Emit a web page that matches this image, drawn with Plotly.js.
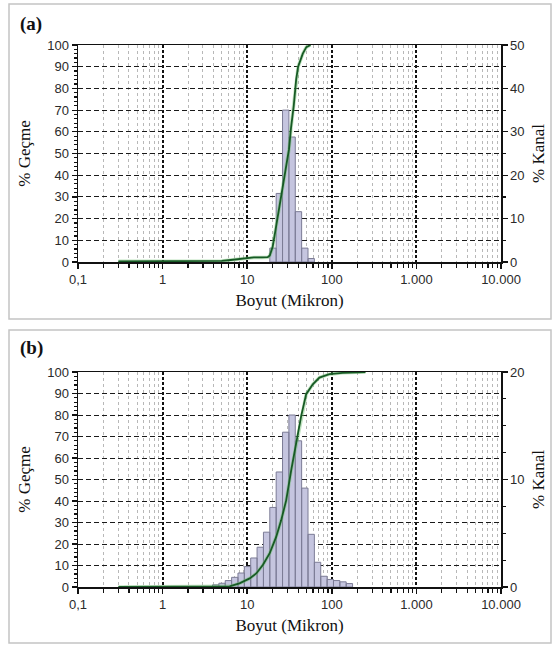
<!DOCTYPE html>
<html>
<head>
<meta charset="utf-8">
<script src="https://cdn.plot.ly/plotly-3.0.1.min.js"></script>
<style>
  html, body { margin: 0; padding: 0; background: #ffffff; }
  #chart { width: 552px; height: 646px; }
</style>
</head>
<body>
<div id="chart"></div>
<script>
// ---------- DATA ----------
// x tick labels (Turkish number format)
const xTickVals = [0.1, 1, 10, 100, 1000, 10000];
const xTickText = ['0,1', '1', '10', '100', '1.000', '10.000'];

// Panel (a): channel histogram (% Kanal) — bin edges in microns
const aBinLow  = [18.5, 22, 26.16, 31.11, 37, 44, 52.33];
const aBinHigh = [22, 26.16, 31.11, 37, 44, 52.33, 62.23];
const aKanal   = [3.2, 15.8, 35.0, 28.8, 11.6, 3.2, 0.8];

// Panel (a): cumulative passing curve (% Geçme)
const aSize = [0.3, 1, 3, 5, 6, 7, 8, 9, 10, 12, 15, 17.5, 18.5, 20, 23, 25.2, 27.6, 30.2, 31.2, 33, 35.5, 37.9, 40, 45.4, 50, 56];
const aPass = [0.3, 0.3, 0.4, 0.5, 0.8, 1.1, 1.4, 1.8, 2.0, 2.1, 2.1, 2.2, 3, 7, 21, 30, 39, 48, 52, 62, 72, 84, 90, 96, 99, 100];

// Panel (b): channel histogram (% Kanal)
const bBinLow  = [3.889, 4.625, 5.5, 6.541, 7.778, 9.25, 11, 13.08, 15.56, 18.5, 22, 26.16, 31.11, 37, 44, 52.33, 62.23, 74, 88, 104.7, 124.5, 148];
const bBinHigh = [4.625, 5.5, 6.541, 7.778, 9.25, 11, 13.08, 15.56, 18.5, 22, 26.16, 31.11, 37, 44, 52.33, 62.23, 74, 88, 104.7, 124.5, 148, 176];
const bKanal   = [0.2, 0.35, 0.6, 0.9, 1.3, 1.9, 2.7, 3.7, 5.1, 7.4, 10.7, 14.4, 16.0, 13.6, 9.2, 4.9, 2.3, 1.0, 0.7, 0.6, 0.48, 0.32];

// Panel (b): cumulative passing curve (% Geçme)
const bSize = [0.3, 1, 2, 3, 4.3, 6.2, 8.1, 10.7, 12.8, 15.3, 18.4, 22, 25.2, 28.9, 33.1, 37.9, 43.5, 49.8, 59.6, 71.4, 93.7, 134, 250];
const bPass = [0, 0, 0, 0, 0.05, 0.3, 1.7, 4.0, 6.3, 10.2, 15.6, 23.3, 31, 40.3, 54.2, 66.5, 79.6, 89.7, 94.3, 97.4, 99, 99.6, 100];

// ---------- HELPERS ----------
function barPolygons(lo, hi, val) {
  const xs = [], ys = [];
  for (let i = 0; i < val.length; i++) {
    xs.push(lo[i], lo[i], hi[i], hi[i], lo[i], null);
    ys.push(0, val[i], val[i], 0, 0, null);
  }
  return {x: xs, y: ys};
}
const minorX = [];
[0.1, 1, 10, 100, 1000].forEach(d => { for (let k = 2; k <= 9; k++) minorX.push(d * k); });

const BAR_FILL = '#c5c5df', BAR_LINE = '#7c7c96';
const CURVE = '#175a25', HALO = 'rgba(110,190,110,0.45)';
const tickFont = {family: 'Arial, Liberation Sans, sans-serif', size: 13, color: '#2a2a2a'};
const titleFont = {family: 'Times New Roman, Liberation Serif, serif', size: 17, color: '#111'};

function xAxis(anchor) {
  return {
    type: 'log', range: [-1, 4], anchor: anchor,
    tickmode: 'array', tickvals: xTickVals, ticktext: xTickText,
    ticks: 'outside', ticklen: 5, tickwidth: 1.5, tickcolor: '#111',
    tickfont: tickFont,
    showline: true, linecolor: '#111', linewidth: 1.5, mirror: true,
    showgrid: true, gridcolor: '#111', gridwidth: 2, griddash: '3px,2px',
    minor: {tickmode: 'array', tickvals: minorX, ticks: 'outside', ticklen: 4, tickwidth: 1.2, tickcolor: '#111',
            showgrid: true, gridcolor: '#b8b8b8', gridwidth: 1, griddash: 'dot'},
    title: {text: 'Boyut (Mikron)', font: titleFont, standoff: 8},
    zeroline: false, automargin: false
  };
}
function kanalAxis(anchor, domain, max, minorStep) {
  return {
    domain: domain, anchor: anchor, side: 'right', range: [0, max], dtick: 10,
    ticks: 'outside', ticklen: 5, tickwidth: 1.2, tickcolor: '#111', tickfont: tickFont,
    minor: {dtick: minorStep, ticks: 'outside', ticklen: 3, tickcolor: '#111'},
    showgrid: false, zeroline: false, showline: true, linecolor: '#111', linewidth: 1.5,
    title: {text: '% Kanal', font: titleFont, standoff: 8}, automargin: false
  };
}
function gecmeAxis(anchor, over) {
  return {
    anchor: anchor, overlaying: over, side: 'left', range: [0, 100], dtick: 10,
    ticks: 'outside', ticklen: 5, tickwidth: 1.2, tickcolor: '#111', tickfont: tickFont,
    minor: {dtick: 2, ticks: 'outside', ticklen: 3, tickcolor: '#111'},
    showgrid: true, gridcolor: '#1a1a1a', gridwidth: 1, griddash: '5px,3px',
    zeroline: false, showline: true, linecolor: '#111', linewidth: 1.5,
    title: {text: '% Geçme', font: titleFont, standoff: 12}, automargin: false
  };
}

const aBars = barPolygons(aBinLow, aBinHigh, aKanal);
const bBars = barPolygons(bBinLow, bBinHigh, bKanal);

const traces = [
  {x: aBars.x, y: aBars.y, xaxis: 'x', yaxis: 'y', type: 'scatter', mode: 'lines', fill: 'toself',
   fillcolor: BAR_FILL, line: {color: BAR_LINE, width: 1}, hoverinfo: 'skip', showlegend: false},
  {x: aSize, y: aPass, xaxis: 'x', yaxis: 'y2', type: 'scatter', mode: 'lines',
   line: {color: HALO, width: 3.5}, showlegend: false, hoverinfo: 'skip'},
  {x: aSize, y: aPass, xaxis: 'x', yaxis: 'y2', type: 'scatter', mode: 'lines',
   line: {color: CURVE, width: 1.8}, showlegend: false},
  {x: bBars.x, y: bBars.y, xaxis: 'x2', yaxis: 'y3', type: 'scatter', mode: 'lines', fill: 'toself',
   fillcolor: BAR_FILL, line: {color: BAR_LINE, width: 1}, hoverinfo: 'skip', showlegend: false},
  {x: bSize, y: bPass, xaxis: 'x2', yaxis: 'y4', type: 'scatter', mode: 'lines',
   line: {color: HALO, width: 3.5}, showlegend: false, hoverinfo: 'skip'},
  {x: bSize, y: bPass, xaxis: 'x2', yaxis: 'y4', type: 'scatter', mode: 'lines',
   line: {color: CURVE, width: 1.8}, showlegend: false}
];

const L = 78, R = 51, T = 45, B = 59, W = 552, H = 646;
const PW = W - L - R, PH = H - T - B;
const px = v => (v - L) / PW;
const py = v => (H - B - v) / PH;

const layout = {
  width: W, height: H,
  margin: {l: L, r: R, t: T, b: B},
  paper_bgcolor: '#ffffff', plot_bgcolor: '#ffffff',
  showlegend: false,
  xaxis: xAxis('y'),
  yaxis: kanalAxis('x', [py(262), 1], 50, 5),
  yaxis2: gecmeAxis('x', 'y'),
  xaxis2: xAxis('y3'),
  yaxis3: kanalAxis('x2', [0, py(372)], 20, 2.5),
  yaxis4: gecmeAxis('x2', 'y3'),
  shapes: [
    {type: 'rect', xref: 'paper', yref: 'paper', x0: px(9), x1: px(551), y0: py(319), y1: py(4),
     line: {color: '#c4c4c4', width: 1.5}, layer: 'below'},
    {type: 'rect', xref: 'paper', yref: 'paper', x0: px(9), x1: px(551), y0: py(643), y1: py(330),
     line: {color: '#c4c4c4', width: 1.5}, layer: 'below'}
  ],
  annotations: [
    {text: '<b>(a)</b>', xref: 'paper', yref: 'paper', x: px(18), y: py(24), xanchor: 'left', yanchor: 'middle',
     showarrow: false, font: {family: 'Times New Roman, Liberation Serif, serif', size: 19, color: '#111'}},
    {text: '<b>(b)</b>', xref: 'paper', yref: 'paper', x: px(18), y: py(348), xanchor: 'left', yanchor: 'middle',
     showarrow: false, font: {family: 'Times New Roman, Liberation Serif, serif', size: 19, color: '#111'}}
  ]
};

Plotly.newPlot('chart', traces, layout, {displayModeBar: false, staticPlot: true});
</script>
</body>
</html>
